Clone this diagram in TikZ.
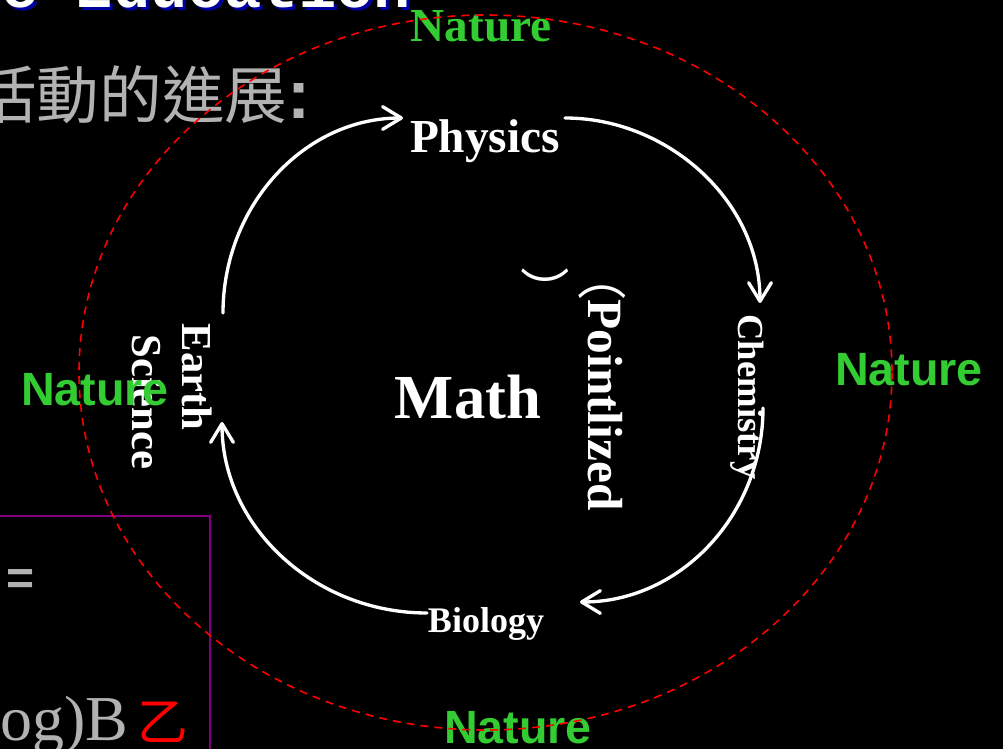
\documentclass[tikz,border=0pt]{standalone}
\usepackage{fontspec}
\setmainfont{Liberation Serif}
\newfontfamily\sansf{Liberation Sans}
\newfontfamily\monof{Liberation Mono}
\newfontfamily\cjkf{Noto Sans CJK TC}
\usetikzlibrary{arrows.meta}
\definecolor{natgreen}{RGB}{51,204,51}
\definecolor{ringred}{RGB}{255,0,0}
\definecolor{boxpurple}{RGB}{128,0,128}
\definecolor{titleblue}{RGB}{0,0,160}
\definecolor{greytext}{RGB}{178,178,178}
\begin{document}
\begin{tikzpicture}[x=0.75pt,y=-0.75pt,
  natser/.style={text=natgreen,inner sep=0pt,font=\fontsize{35.5}{36}\selectfont\bfseries},
  natsans/.style={text=natgreen,inner sep=0pt,font=\sansf\fontsize{35}{36}\selectfont\bfseries},
  topic/.style={text=white,inner sep=0pt,font=\bfseries},
  flow/.style={draw=white,line width=2.5pt,line cap=round,
    -{Straight Barb[length=14pt,width=17pt,line join=round,line cap=round]}},
  ring/.style={draw=ringred,line width=1.2pt,dash pattern=on 6pt off 4.5pt},
  titletext/.style={inner sep=0pt,anchor=base west,font=\monof\fontsize{46.5}{47}\selectfont\bfseries},
  greyt/.style={text=greytext,inner sep=0pt}
]
\fill[black] (0,0) rectangle (1003,749);
\useasboundingbox (0,0) rectangle (1003,749);

% title (cut at the top)
\node[titletext,text=titleblue] (titleshadow) at (-219,11) {Science Education};
\node[titletext,text=white] (title) at (-222,8) {Science Education};

% chinese heading
\node[greyt,anchor=base west,font=\cjkf\fontsize{47}{47}\selectfont] (heading) at (-26,118) {活動的進展{\sansf\bfseries\fontsize{52}{52}\selectfont :}};

% box bottom-left
\draw[boxpurple,line width=1.5pt] (-10,516) rectangle (210,760);
\node[greyt,font=\sansf\bfseries\fontsize{36}{36}\selectfont] (eq) at (21,582) {=};
\node[greyt,anchor=base west,font=\fontsize{48}{48}\selectfont] (og) at (0,740) {og)B};
\node[text=red,inner sep=0pt,font=\cjkf\fontsize{38}{38}\selectfont] (yi) at (163,722) {乙};

% topics
\node[topic,anchor=base,font=\bfseries\fontsize{35.5}{36}\selectfont] (physics) at (485,152) {Physics};
\node[topic,anchor=base,font=\bfseries\fontsize{47}{48}\selectfont] (math) at (468,418) {Math};
\node[topic,anchor=base,font=\bfseries\fontsize{27}{28}\selectfont] (biology) at (486,632) {Biology};
\node[topic,rotate=-90,font=\bfseries\fontsize{27.5}{28}\selectfont] (chem) at (747,397) {Chemistry};
\node[topic,rotate=-90,font=\bfseries\fontsize{32}{33}\selectfont] (earth) at (197,377) {Earth};
\node[topic,rotate=-90,font=\bfseries\fontsize{32}{33}\selectfont] (science) at (147,402) {Science};
\node[topic,rotate=-90,font=\bfseries\fontsize{37}{38}\selectfont] (point) at (605,405) {Pointlized};
\node[text=white,inner sep=0pt,rotate=-90,font=\cjkf\fontsize{37}{37}\selectfont] (lpar) at (602,276) {（};
\node[text=white,inner sep=0pt,rotate=-90,font=\cjkf\fontsize{37}{37}\selectfont] (rpar) at (545,291) {）};

% connectors
\coordinate (esout) at (223,313);
\coordinate (physin) at (403,118);
\coordinate (physout) at (565,118);
\coordinate (chemin) at (760,303);
\coordinate (chemout) at (763,408);
\coordinate (bioin) at (580,602);
\coordinate (bioout) at (427,613);
\coordinate (esin) at (222,422);
\draw[flow] (esout) .. controls (223,206) and (304,118) .. (physin);
\draw[flow] (physout) .. controls (667,118) and (760,200) .. (chemin);
\draw[flow] (chemout) .. controls (763,515) and (680,602) .. (bioin);
\draw[flow] (bioout) .. controls (315,613) and (222,527) .. (esin);

% nature labels
\node[natser,anchor=base] (ntop) at (481,42) {Nature};
\node[natsans,anchor=base] (nright) at (909,385) {Nature};
\node[natsans,anchor=base] (nleft) at (95,405) {Nature};
\node[natsans,anchor=base] (nbottom) at (518,743) {Nature};

% dashed ring
\draw[ring] (485.5,372.5) ellipse [x radius=406.5, y radius=357.5];
\end{tikzpicture}
\end{document}
